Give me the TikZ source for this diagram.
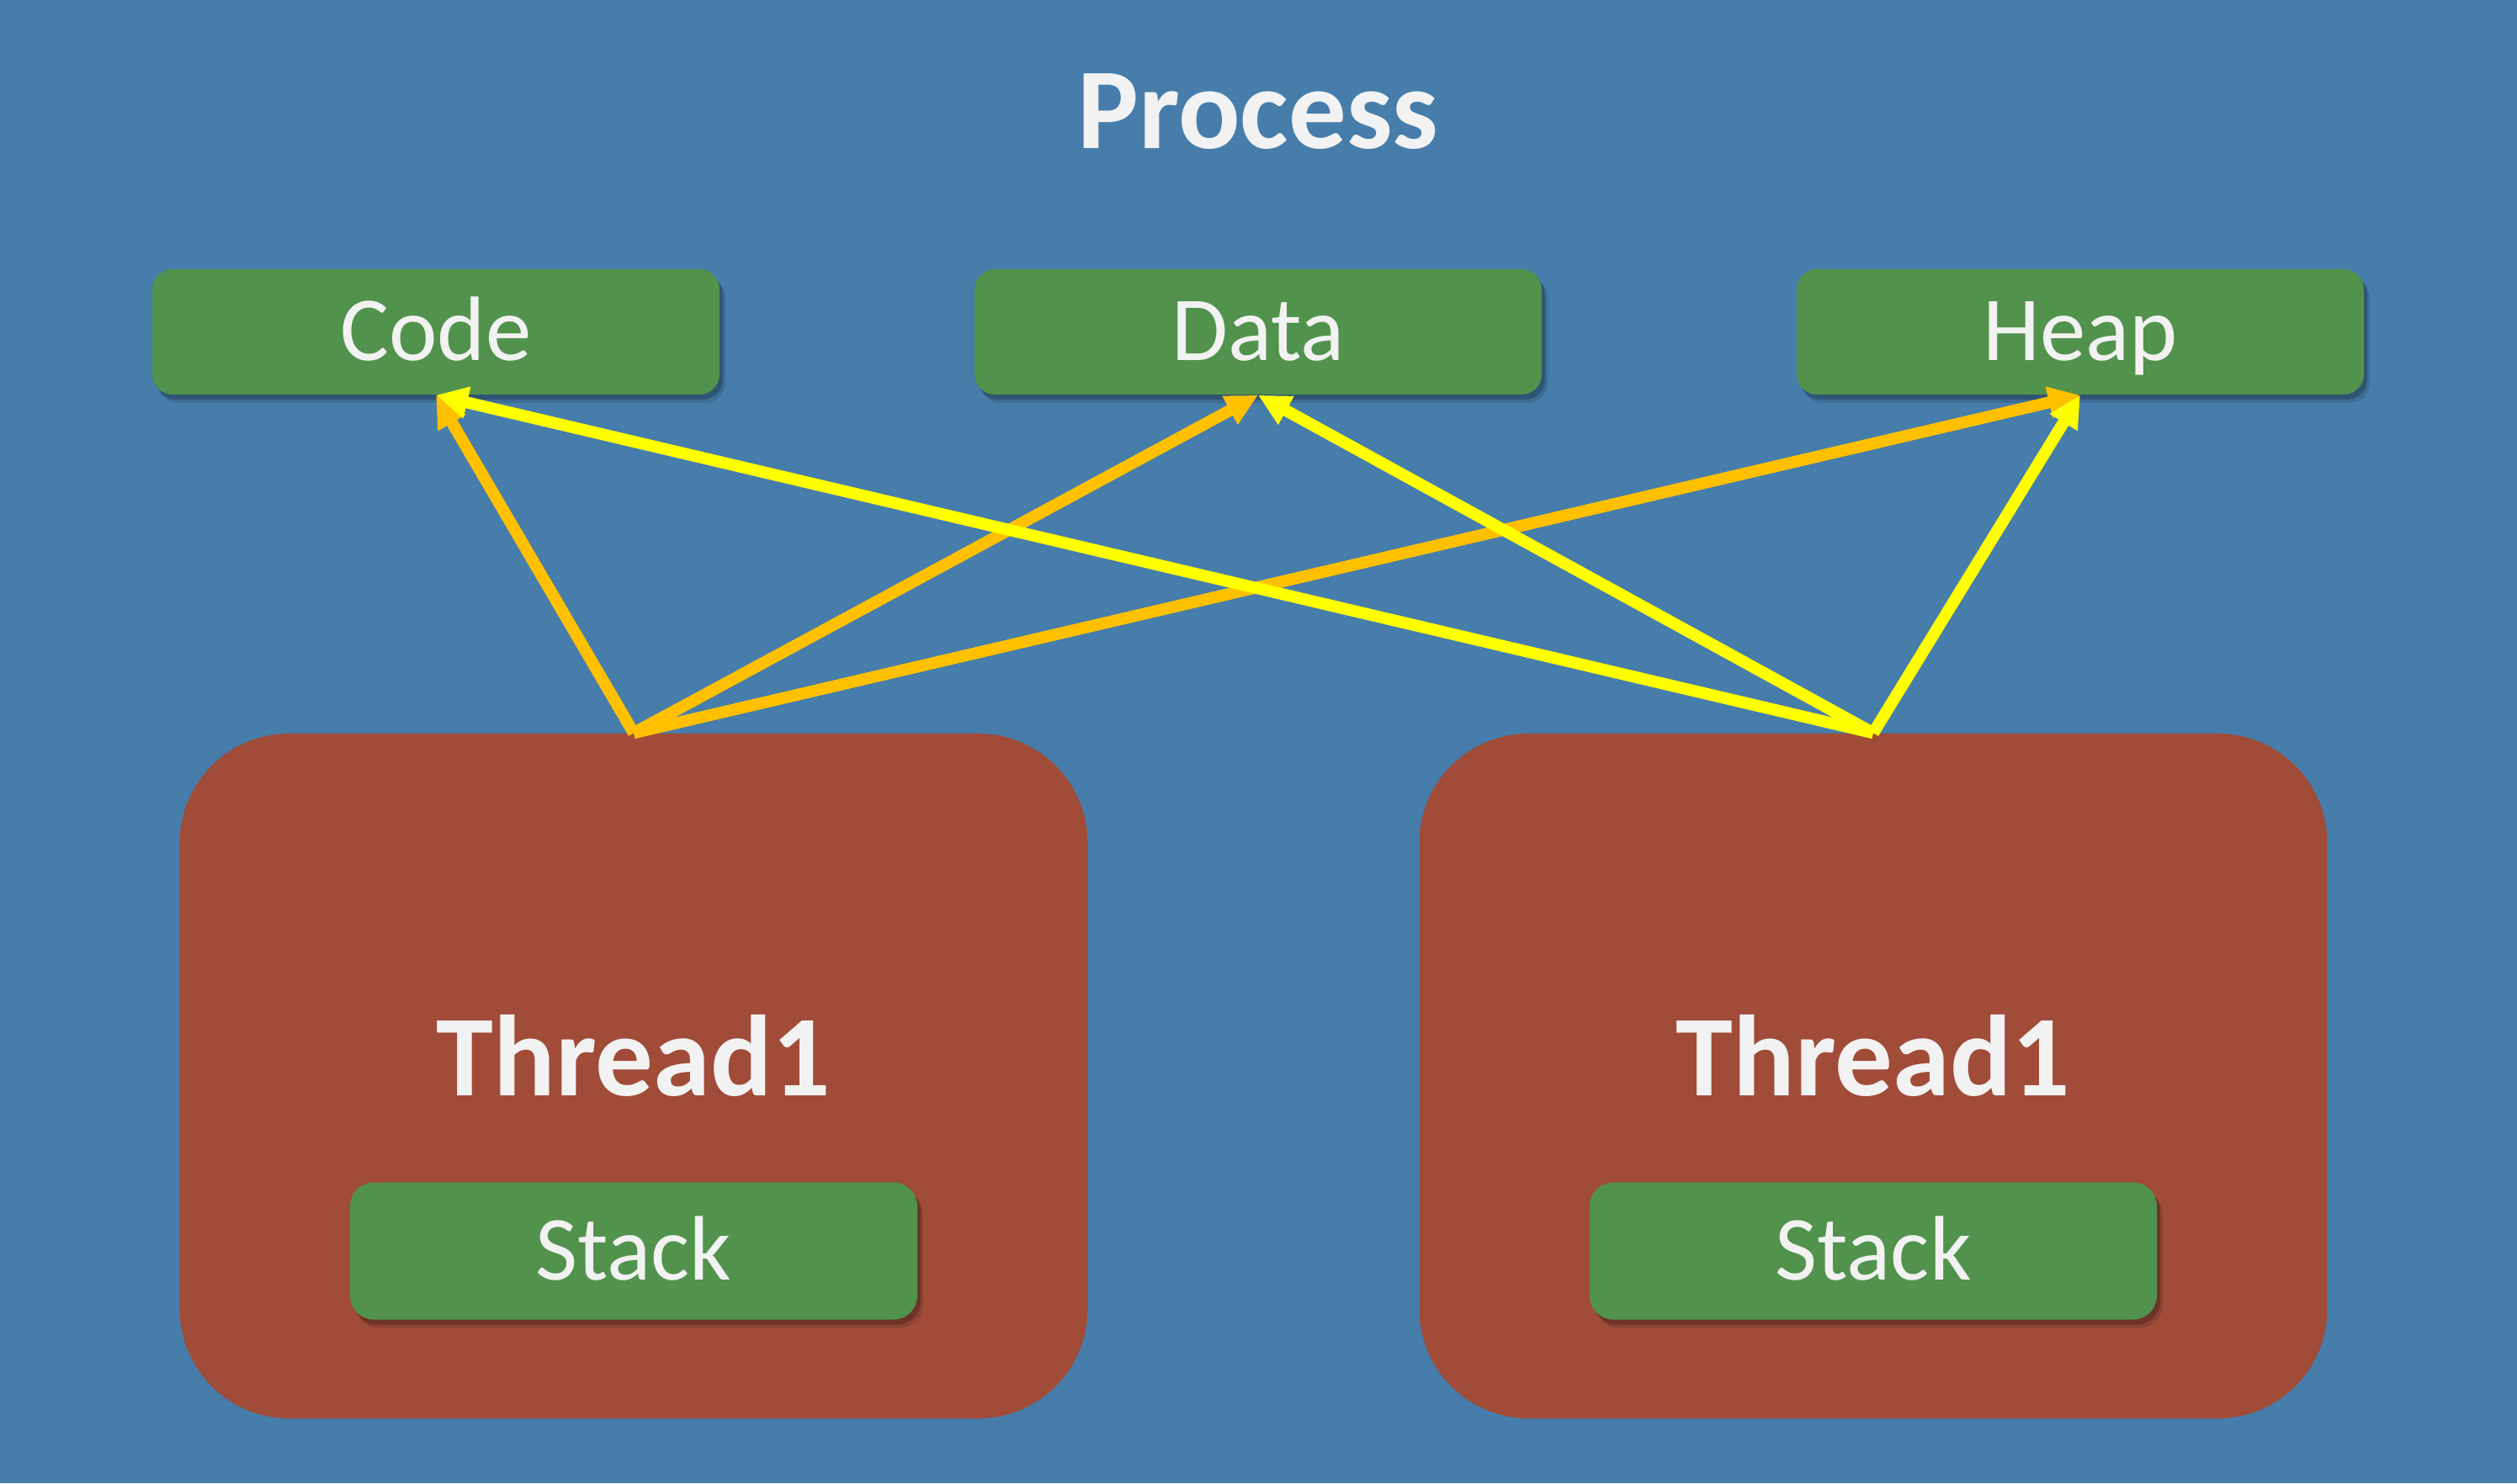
\documentclass[tikz,border=0pt]{standalone}
\usepackage{fontspec}
\setmainfont{Carlito}
\usetikzlibrary{arrows.meta,positioning,shadows}

\definecolor{bgblue}{HTML}{467DAA}
\definecolor{partgreen}{HTML}{51924C}
\definecolor{threadred}{HTML}{A04C39}
\definecolor{linkorange}{HTML}{FFC000}
\definecolor{linkyellow}{HTML}{FFFF00}
\definecolor{textwhite}{HTML}{F2F2F2}

\begin{document}
\begin{tikzpicture}
    [part/.style={fill=partgreen,rounded corners=0.24cm,minimum width=6.74cm,minimum height=1.49cm,
      inner sep=0pt,text=textwhite,font=\fontsize{31}{37}\selectfont,text height=0.69cm,text depth=0pt,
      drop shadow={shadow xshift=0.07cm,shadow yshift=-0.1cm,fill=black,opacity=0.12},
      drop shadow={shadow xshift=0.04cm,shadow yshift=-0.06cm,fill=black,opacity=0.22}},
    thread/.style={fill=threadred,rounded corners=1.3cm,minimum width=10.79cm,minimum height=8.14cm},
    bigname/.style={text=textwhite,font=\bfseries\fontsize{39}{47}\selectfont,inner sep=0pt,
      text height=0.87cm,text depth=0pt},
    link/.style={-{Triangle[length=0.38cm,width=0.36cm]},line width=0.14cm}]

    \fill[bgblue] (0,0) rectangle (29.91,17.63);

    \node[part] (code) at (5.18,13.685) {Code};
    \node[part] (data) [right of=code,xshift=8.77cm] {Data};
    \node[part] (heap) [right of=data,xshift=8.77cm] {Heap};
    \node[bigname] (process) [above of=data,yshift=1.615cm] {Process};

    \node[thread] (thread1) at (7.53,4.84) {};
    \node[thread] (thread2) [right of=thread1,xshift=13.73cm] {};
    \node[bigname] (name1) [above of=thread1,yshift=-0.795cm] {Thread1};
    \node[bigname] (name2) [above of=thread2,yshift=-0.795cm] {Thread1};
    \node[part,minimum height=1.63cm,rounded corners=0.28cm] (stack1) [below of=thread1,yshift=-1.08cm] {Stack};
    \node[part,minimum height=1.63cm,rounded corners=0.28cm] (stack2) [below of=thread2,yshift=-1.08cm] {Stack};

    \draw[link,linkorange] (thread1.north) -- (code.south);
    \draw[link,linkorange] (thread1.north) -- (data.south);
    \draw[link,linkorange] (thread1.north) -- (heap.south);
    \draw[link,linkyellow] (thread2.north) -- (code.south);
    \draw[link,linkyellow] (thread2.north) -- (data.south);
    \draw[link,linkyellow] (thread2.north) -- (heap.south);
  \end{tikzpicture}
\end{document}
